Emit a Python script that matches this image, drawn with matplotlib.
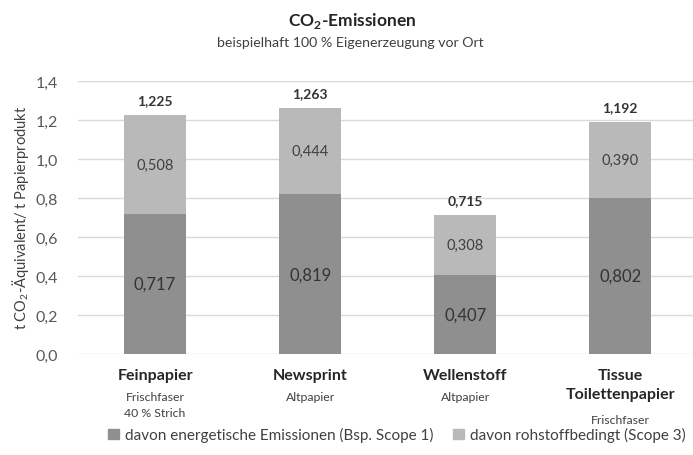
import numpy as np
import matplotlib
matplotlib.use("Agg")
import matplotlib.pyplot as plt
from matplotlib.patches import Patch

plt.rcParams['font.family'] = ['Lato', 'DejaVu Sans']
plt.rcParams['mathtext.fontset'] = 'custom'
plt.rcParams['mathtext.rm'] = 'Lato'
plt.rcParams['mathtext.bf'] = 'Lato:bold'

# CO2 emissions per tonne of paper product
products = ['Feinpapier', 'Newsprint', 'Wellenstoff', 'Tissue\nToilettenpapier']
subtitles = ['Frischfaser\n40 % Strich', 'Altpapier', 'Altpapier', 'Frischfaser']
energetisch = [0.717, 0.819, 0.407, 0.802]
rohstoff = [0.508, 0.444, 0.308, 0.390]
gesamt = [1.225, 1.263, 0.715, 1.192]
yticks = [0.0, 0.2, 0.4, 0.6, 0.8, 1.0, 1.2, 1.4]

dark = '#8f8f8f'
light = '#b9b9b9'
txt = '#404040'

def de(v, nd=3):
    return f'{v:.{nd}f}'.replace('.', ',')

fig = plt.figure(figsize=(6.93, 4.56), dpi=100)
ax = fig.add_axes([0.112, 0.2215, 0.888, 0.5985])

x = np.arange(len(products))
w = 0.4
b1 = ax.bar(x, energetisch, w, color=dark, zorder=2,
            label='davon energetische Emissionen (Bsp. Scope 1)')
b2 = ax.bar(x, rohstoff, w, bottom=energetisch, color=light, zorder=2,
            label='davon rohstoffbedingt (Scope 3)')

for i in range(len(products)):
    ax.text(x[i], energetisch[i] / 2, de(energetisch[i]), ha='center', va='center',
            fontsize=12, color='#333333')
    ax.text(x[i], energetisch[i] + rohstoff[i] / 2, de(rohstoff[i]), ha='center',
            va='center', fontsize=10.5, color='#404040')
    ax.text(x[i], gesamt[i] + 0.045, de(gesamt[i]), ha='center', va='bottom',
            fontsize=10, fontweight='bold', color='#333333')

ax.set_xlim(-0.5, 3.47)
ax.set_ylim(0, 1.4)
ax.set_yticks(yticks)
ax.set_yticklabels([de(t, 1) for t in yticks], fontsize=11.5, color='#595959')
ax.tick_params(axis='y', length=0, pad=14)
ax.set_xticks(x)
ax.set_xticklabels([])
ax.tick_params(axis='x', length=0)
ax.grid(axis='y', color='#d9d9d9', linewidth=1, zorder=0)
for s in ax.spines.values():
    s.set_visible(False)

# category labels below the axis
for i in range(len(products)):
    ax.text(x[i], -0.05, products[i], transform=ax.get_xaxis_transform(),
            ha='center', va='top', fontsize=11.5, fontweight='bold', color='#262626',
            linespacing=1.45)
    nl = products[i].count('\n')
    ax.text(x[i], -0.135 - nl * 0.085, subtitles[i], transform=ax.get_xaxis_transform(),
            ha='center', va='top', fontsize=8.8, color='#404040', linespacing=1.55)

fig.text(0.03, 0.522, r't CO$_2$-Äquivalent/ t Papierprodukt', rotation=90,
         ha='center', va='center', fontsize=10.5, color=txt)

fig.text(0.508, 0.955, r'CO$_\mathbf{2}$-Emissionen', ha='center', va='center',
         fontsize=12.5, fontweight='bold', color='#262626')
fig.text(0.505, 0.905, 'beispielhaft 100 % Eigenerzeugung vor Ort', ha='center',
         va='center', fontsize=10.2, color=txt)

fig.legend(handles=[Patch(color=dark), Patch(color=light)],
           labels=[b1.get_label(), b2.get_label()],
           loc='center', bbox_to_anchor=(0.573, 0.044), ncol=2, frameon=False,
           fontsize=11, handlelength=0.7, handleheight=0.7, handletextpad=0.4,
           columnspacing=1.3, labelcolor='#404040')

fig.savefig('out.png', dpi=100)
